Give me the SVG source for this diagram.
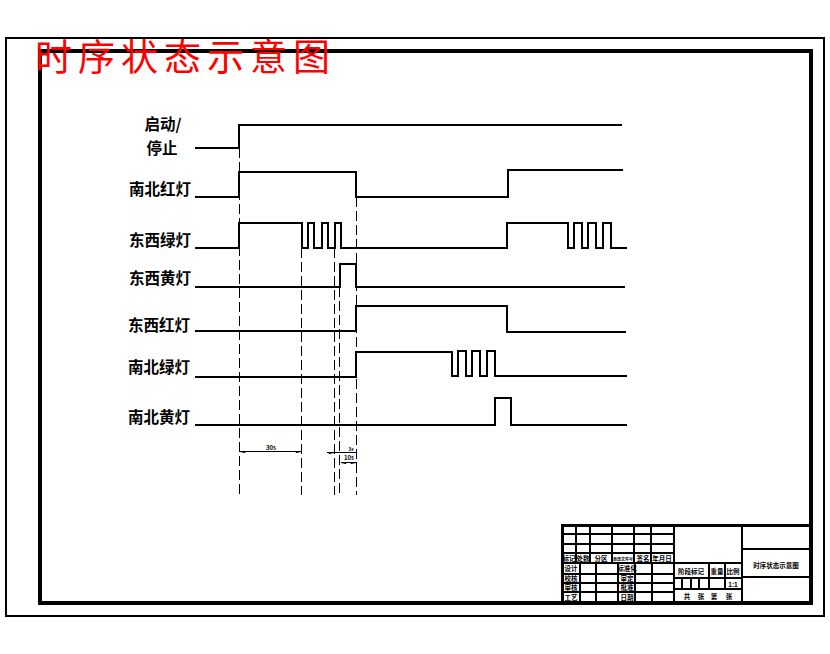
<svg xmlns="http://www.w3.org/2000/svg" width="830" height="654" viewBox="0 0 830 654">
<style>
text{font-family:"Noto Sans CJK SC","Liberation Sans",sans-serif;fill:#000}
.lb{font-size:15.5px;font-weight:700;text-anchor:middle}
.s{font-size:6.5px;font-weight:700;text-anchor:middle}
.sig{fill:none;stroke:#000;stroke-width:2;shape-rendering:crispEdges}
.d{fill:none;stroke:#000;stroke-width:1;stroke-dasharray:10 4;shape-rendering:crispEdges}
.dim{fill:none;stroke:#000;stroke-width:1;shape-rendering:crispEdges}
.g{fill:none;stroke:#000;stroke-width:2;shape-rendering:crispEdges}
</style>
<rect width="830" height="654" fill="#fff"/>
<g id="frame">
<rect x="6" y="38" width="818" height="578" fill="none" stroke="#000" stroke-width="1.5" shape-rendering="crispEdges"/>
<rect x="40" y="51" width="771" height="552" fill="none" stroke="#000" stroke-width="4" shape-rendering="crispEdges"/>
</g>
<g id="title"><text x="35 78 121 164 207 250 293" y="71" font-size="37" style="fill:#f00">时序状态示意图</text></g>
<g id="connectors">
<path class="d" d="M239.5 148V495M301.5 248V495M334.5 248V495M339.5 287V495M356.5 197V495"/>
<path class="dim" d="M239.5 451.5H301.5M327 452.5H356.5M341 462.5H356.5"/>
<path d="M240 451.5l5 1v-1zM301 451.5l-5 1v-1zM334 452.5l-5 1v-1zM341 462.5l5 1v-1zM356 462.5l-5 1v-1z" stroke="#000" fill="#000"/>
</g>
<g id="sig-start"><text class="lb" x="163" y="130">启动/</text><text class="lb" x="162" y="154">停止</text><path class="sig" d="M195 148H239V125H622"/></g>
<g id="sig-ns-red"><text class="lb" x="160" y="195">南北红灯</text><path class="sig" d="M195 197H239V172H356V197H508V170H623"/></g>
<g id="sig-ew-green"><text class="lb" x="160" y="246">东西绿灯</text><path class="sig" d="M195 248H239V223H302V248H308V223H314V248H322V223H328V248H335V223H341V248H507V223H568V248H574V223H582V248H588V223H596V248H603V223H611V248H627"/></g>
<g id="sig-ew-yellow"><text class="lb" x="160" y="284">东西黄灯</text><path class="sig" d="M195 287H340V264H356V287H625"/></g>
<g id="sig-ew-red"><text class="lb" x="159" y="331">东西红灯</text><path class="sig" d="M195 331H356V306H507V332H626"/></g>
<g id="sig-ns-green"><text class="lb" x="159" y="373">南北绿灯</text><path class="sig" d="M195 377H356V352H452V376H458V351H466V376H472V351H480V376H487V351H495V376H627"/></g>
<g id="sig-ns-yellow"><text class="lb" x="159" y="423">南北黄灯</text><path class="sig" d="M195 425H495V398H511V425H627"/></g>
<g id="dim-labels">
<text x="271" y="450" font-size="6" font-weight="700" text-anchor="middle" font-family="Liberation Sans">30s</text>
<text x="351" y="451" font-size="5" font-weight="700" text-anchor="middle" font-family="Liberation Sans">3s</text>
<text x="349" y="460" font-size="6" font-weight="700" text-anchor="middle" font-family="Liberation Sans">10s</text>
</g>
<g id="title-block">
<path d="M562 525H812M562 524V603" fill="none" stroke="#000" stroke-width="3" shape-rendering="crispEdges"/>
<path class="g" d="M562 534H675M562 544H675M562 553H675M562 563H675M562 574H675M562 583H675M562 592H675"/>
<path class="g" d="M576 525V563M590 525V563M612 525V563M634 525V563M651 525V563M580 563V603M596 563V603M618 563V603M635 563V603M652 563V603M674 525V603M742 525V603"/>
<path class="g" d="M674 563H742M674 578H742M674 589H742M742 549H811M742 577H811M682 578V589M691 578V589M699 578V589M709 563V589M725 563V589"/>
<text class="s" x="569" y="561">标记</text><text class="s" x="583" y="561">处数</text><text class="s" x="601" y="561">分区</text><text class="s" x="623" y="561" style="font-size:4px">更改文件号</text><text class="s" x="643" y="561">签名</text><text class="s" x="662" y="561">年月日</text>
<text class="s" x="571" y="571">设计</text><text class="s" x="571" y="581">校核</text><text class="s" x="571" y="590">审核</text><text class="s" x="571" y="600">工艺</text>
<text class="s" x="627" y="571">标准化</text><text class="s" x="627" y="581">审定</text><text class="s" x="627" y="590">批准</text><text class="s" x="627" y="600">日期</text>
<text class="s" x="691" y="574">阶段标记</text><text class="s" x="717" y="574">重量</text><text class="s" x="733" y="574">比例</text>
<text class="s" x="733" y="587" style="font-family:Liberation Sans">1:1</text>
<text class="s" x="687" y="599">共</text><text class="s" x="701" y="599">张</text><text class="s" x="714" y="599">第</text><text class="s" x="729" y="599">张</text>
<text class="s" x="776" y="568">时序状态示意图</text>
</g>
</svg>
